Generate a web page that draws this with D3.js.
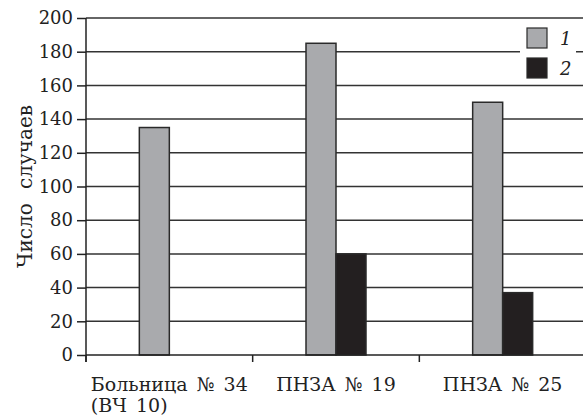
<!DOCTYPE html>
<html>
<head>
<meta charset="utf-8">
<script src="https://cdn.jsdelivr.net/npm/d3@7"></script>
<style>
  body { margin: 0; background: #fff; }
  svg { display: block; font-family: "DejaVu Serif", serif; }
</style>
</head>
<body>
<svg id="chart" width="583" height="416"></svg>
<script>
// data
const categories = ["Больница № 34|(ВЧ 10)", "ПНЗА № 19", "ПНЗА № 25"];
const seriesNames = ["1", "2"];
const series1 = [135, 185, 150];
const series2 = [0, 60, 37];
const yTicks = [0, 20, 40, 60, 80, 100, 120, 140, 160, 180, 200];
const yTitle = "Число случаев";

const colors = ["#a9aaad", "#231f20"];

const margin = {top: 18, right: -3, bottom: 61, left: 86};
const width = 583 - margin.left - margin.right;
const height = 416 - margin.top - margin.bottom;

const svg = d3.select("#chart");
const chart = svg.append("g")
    .attr("transform", `translate(${margin.left}, ${margin.top})`);

const x0 = d3.scaleBand().domain(categories).range([0, width]);
const x1 = d3.scaleBand().domain(seriesNames).range([-30, 30]);
const y = d3.scaleLinear().domain([0, 200]).range([height, 0]);

// gridlines
chart.append("g")
    .selectAll("line")
    .data(yTicks.slice(1))
    .enter()
    .append("line")
    .attr("x1", 0)
    .attr("x2", width)
    .attr("y1", d => y(d))
    .attr("y2", d => y(d))
    .attr("stroke", "#333")
    .attr("stroke-width", 1.5);

// y axis
const yAxis = chart.append("g")
    .call(d3.axisLeft(y).tickValues(yTicks).tickSize(9).tickPadding(4));
yAxis.select(".domain").remove();
yAxis.selectAll("line").attr("stroke", "#222").attr("stroke-width", 1.5);
yAxis.selectAll("text").attr("font-size", 18).attr("fill", "#222")
    .attr("font-family", "DejaVu Serif");

chart.append("line")
    .attr("x1", 0).attr("x2", 0)
    .attr("y1", 0).attr("y2", height + 7)
    .attr("stroke", "#222").attr("stroke-width", 1.5);

// bars
const rows = categories.map((c, i) => ({cat: c, vals: [series1[i], series2[i]]}));
const groups = chart.selectAll(".grp")
    .data(rows)
    .enter()
    .append("g")
    .attr("transform", d => `translate(${x0(d.cat) + x0.bandwidth() / 2}, 0)`);

groups.selectAll("rect")
    .data(d => d.vals.map((v, k) => ({name: seriesNames[k], value: v})).filter(s => s.value > 0))
    .enter()
    .append("rect")
    .attr("x", s => x1(s.name))
    .attr("y", s => y(s.value))
    .attr("width", x1.bandwidth())
    .attr("height", s => height - y(s.value))
    .attr("fill", (s) => colors[seriesNames.indexOf(s.name)])
    .attr("stroke", "#2a2a2a")
    .attr("stroke-width", 1.5);

// x axis
chart.append("line")
    .attr("x1", 0).attr("x2", width)
    .attr("y1", height).attr("y2", height)
    .attr("stroke", "#222").attr("stroke-width", 1.5);

chart.append("g")
    .selectAll("line")
    .data(categories)
    .enter()
    .append("line")
    .attr("x1", d => x0(d)).attr("x2", d => x0(d))
    .attr("y1", height).attr("y2", height + 7)
    .attr("stroke", "#222").attr("stroke-width", 1.5);

const labels = chart.append("g")
    .selectAll("text")
    .data(categories)
    .enter()
    .append("text")
    .attr("x", d => x0(d) + x0.bandwidth() / 2)
    .attr("y", height + 36)
    .attr("text-anchor", "middle")
    .attr("font-size", 19)
    .attr("word-spacing", 3)
    .attr("fill", "#222")
    .text(d => d.split("|")[0]);

labels.each(function (d) {
    const parts = d.split("|");
    if (parts.length > 1) {
        const w = this.getComputedTextLength();
        chart.append("text")
            .attr("x", x0(d) + x0.bandwidth() / 2 - w / 2)
            .attr("y", height + 57)
            .attr("font-size", 19)
            .attr("word-spacing", 3)
            .attr("fill", "#222")
            .text(parts[1]);
    }
});

// y title
svg.append("text")
    .attr("transform", `translate(32, ${margin.top + height / 2}) rotate(-90)`)
    .attr("text-anchor", "middle")
    .attr("font-size", 20)
    .attr("fill", "#222")
    .attr("word-spacing", 8)
    .text(yTitle);

// legend
const legend = svg.append("g").attr("transform", "translate(520, 27)");
legend.append("rect")
    .attr("width", 56).attr("height", 53)
    .attr("fill", "#fff");
seriesNames.forEach((n, i) => {
    legend.append("rect")
        .attr("x", 7).attr("y", 1 + i * 30)
        .attr("width", 20).attr("height", 20)
        .attr("fill", colors[i])
        .attr("stroke", "#2a2a2a")
        .attr("stroke-width", 1.2);
    legend.append("text")
        .attr("x", 40).attr("y", 18 + i * 30)
        .attr("font-size", 18)
        .attr("font-style", "italic")
        .attr("fill", "#222")
        .text(n);
});
</script>
</body>
</html>
